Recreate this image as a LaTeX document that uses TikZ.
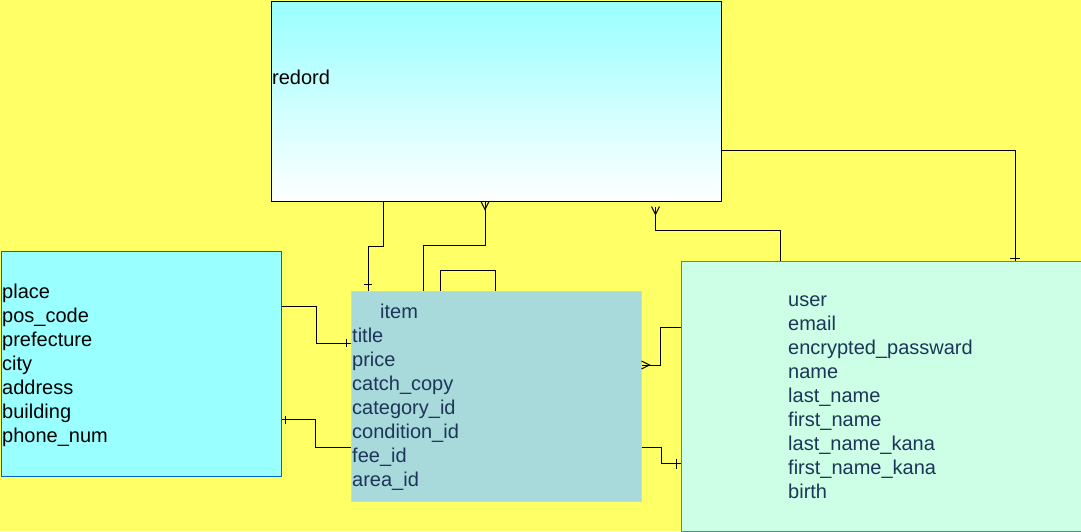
\documentclass[tikz,border=0pt]{standalone}
\usepackage{fontspec}
\setmainfont{Liberation Sans}
\usetikzlibrary{calc}
\definecolor{bgyellow}{HTML}{FFFF66}
\definecolor{recTop}{HTML}{99FFFF}
\definecolor{leftfill}{HTML}{99FFFF}
\definecolor{leftdraw}{HTML}{0066CC}
\definecolor{itemfill}{HTML}{A8DADC}
\definecolor{itemdraw}{HTML}{B0E3E6}
\definecolor{userfill}{HTML}{CCFFE6}
\definecolor{userdraw}{HTML}{4A86C0}
\definecolor{navy}{HTML}{1D3557}
\tikzset{
  entity/.style={rectangle, anchor=north west, inner sep=0pt, line width=1pt},
  lbl/.style={anchor=base west, inner sep=0pt, font=\fontsize{20}{24}\selectfont},
  conn/.style={draw=black, line width=1pt},
  ermark/.style={draw=black, line width=1pt},
}
\begin{document}
\begin{tikzpicture}[x=1pt,y=-1pt]
\useasboundingbox (0,0) rectangle (1081,531);
\fill[bgyellow] (0,0) rectangle (1081,531);

% entities
\node[entity, draw=black, top color=recTop, bottom color=white,
      minimum width=450pt, minimum height=200pt] (record) at (270.5,0.5) {};
\node[entity, draw=leftdraw, fill=leftfill,
      minimum width=280pt, minimum height=225pt] (place) at (0.5,250.5) {};
\node[entity, draw=itemdraw, fill=itemfill,
      minimum width=290pt, minimum height=210pt] (item) at (350.5,290.5) {};
\node[entity, draw=userdraw, fill=userfill,
      minimum width=400pt, minimum height=270pt] (user) at (680.5,260.5) {};

% texts
\node[lbl] (t-record) at (272,84) {redord};

\foreach \t [count=\i from 0] in {place,pos\_code,prefecture,city,address,building,phone\_num}
  \node[lbl] (t-place-\i) at (2,298.5+24*\i) {\t};

\node[lbl, text=navy] (t-item) at (380,318.5) {item};
\foreach \t [count=\i from 0] in {title,price,catch\_copy,category\_id,condition\_id,fee\_id,area\_id}
  \node[lbl, text=navy] (t-item-\i) at (352,342.5+24*\i) {\t};

\foreach \t [count=\i from 0] in {user,email,encrypted\_passward,name,last\_name,first\_name,last\_name\_kana,first\_name\_kana,birth}
  \node[lbl, text=navy] (t-user-\i) at (788,306.5+24*\i) {\t};

% connectors
% record -> item (one)
\coordinate (c1a) at ($(record.south west)+(112.5,0)$);
\coordinate (c1b) at ($(item.north west)+(17.5,0)$);
\draw[conn] (c1a) -- ++(0,45) -| (c1b);
\draw[ermark] ($(c1b)+(-4,-6)$) -- ++(8,0);

% item -> record (many)
\coordinate (c2a) at ($(item.north west)+(72.5,0)$);
\coordinate (c2b) at ($(record.south west)+(214.5,0)$);
\draw[conn] (c2a) -- ++(0,-45) -| (c2b);
\draw[ermark] ($(c2b)+(-4,0)$) -- ($(c2b)+(0,8)$) -- ($(c2b)+(4,0)$);

% item self loop
\coordinate (c3a) at ($(item.north west)+(89.5,0)$);
\coordinate (c3b) at ($(item.north west)+(144.5,0)$);
\draw[conn] (c3a) -- ++(0,-20) -| (c3b);

% user -> record (many)
\coordinate (c4a) at ($(user.north west)+(99.5,0)$);
\coordinate (c4b) at ($(record.south west)+(385,5)$);
\draw[conn] (c4a) -- ++(0,-30) -| (c4b);
\draw[ermark] ($(c4b)+(-4,0)$) -- ($(c4b)+(0,8)$) -- ($(c4b)+(4,0)$);

% record -> user (one)
\coordinate (c5a) at ($(record.north east)+(0,150)$);
\coordinate (c5b) at ($(user.north west)+(334.5,0)$);
\draw[conn] (c5a) -| (c5b);
\draw[ermark] ($(c5b)+(-5,-2)$) -- ++(10,0);

% place -> item (one)
\coordinate (c6a) at ($(place.north east)+(0,56)$);
\coordinate (c6b) at ($(item.north west)+(0,52.5)$);
\draw[conn] (c6a) -- ++(34.5,0) |- (c6b);
\draw[ermark] ($(c6b)+(-4,-4)$) -- ++(0,8);

% item -> place (one)
\coordinate (c7a) at ($(item.north west)+(0,157)$);
\coordinate (c7b) at ($(place.north east)+(0,169)$);
\draw[conn] (c7a) -- ++(-35,0) |- (c7b);
\draw[ermark] ($(c7b)+(4,-4)$) -- ++(0,8);

% user -> item (many)
\coordinate (c8a) at ($(user.north west)+(0,67)$);
\coordinate (c8b) at ($(item.north east)+(0,74.5)$);
\draw[conn] (c8a) -- ++(-20,0) |- (c8b);
\draw[ermark] ($(c8b)+(0,-4)$) -- ($(c8b)+(8,0)$) -- ($(c8b)+(0,4)$);

% item -> user (one)
\coordinate (c9a) at ($(item.north east)+(0,157)$);
\coordinate (c9b) at ($(user.north west)+(0,203)$);
\draw[conn] (c9a) -- ++(20,0) |- (c9b);
\draw[ermark] ($(c9b)+(-4,-5)$) -- ++(0,10);
\end{tikzpicture}
\end{document}
